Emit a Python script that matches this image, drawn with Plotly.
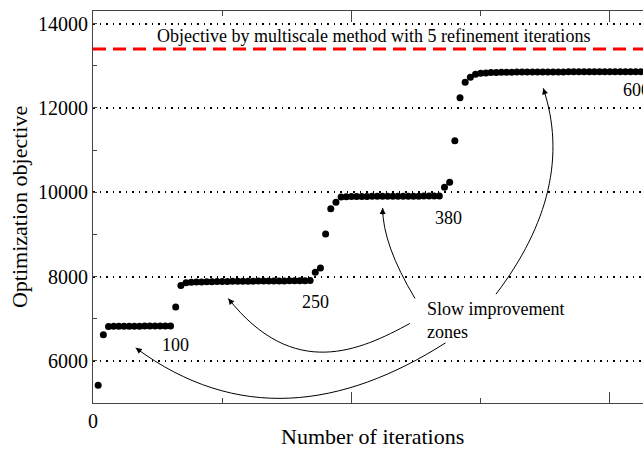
import plotly.graph_objects as go

# ---------------- data ----------------
iterations = list(range(10, 1070, 10))
objective = (
    [5420, 6620]
    + [6815, 6820, 6820, 6822, 6822, 6823, 6823, 6824, 6824, 6825, 6825, 6826, 6826]
    + [7280, 7790]
    + [7855, 7862, 7868, 7872, 7876, 7878, 7880, 7882, 7884, 7886, 7888, 7889,
       7890, 7891, 7892, 7893, 7894, 7895, 7896, 7897, 7898, 7899, 7900, 7902, 7905]
    + [8100, 8200, 9010, 9610, 9760]
    + [9890, 9895, 9898, 9900, 9901, 9902, 9903, 9904, 9905, 9905, 9906, 9906,
       9907, 9907, 9908, 9908, 9909, 9909, 9910, 9910]
    + [10120, 10240, 11220, 12240, 12610, 12730, 12800]
    + [12825, 12832, 12838, 12842, 12845, 12847, 12849, 12850, 12851, 12852,
       12853, 12853, 12854, 12854, 12855, 12855, 12855, 12856, 12856, 12856,
       12857, 12857, 12857, 12857, 12858, 12858, 12858, 12858, 12858, 12859,
       12859, 12859]
)
multiscale_objective = 13400
multiscale_label = "Objective by multiscale method with 5 refinement iterations"
x_range = [0, 1064]
y_range = [5000, 14300]
y_ticks = [6000, 8000, 10000, 12000, 14000]
x_ticks = [0, 500, 1000]
x_ticktext = ["0", "", ""]

# zone labels: (text, x, y)
zone_labels = [("100", 160, 6372), ("250", 430, 7399), ("380", 687, 9400)]

# curved arrows (cubic / quadratic Bezier control points in data units)
curves = [
    ("C", [(682, 6427), (482, 4864), (278, 4532), (82.6, 6308)], (6.4, 4.8)),
    ("C", [(613, 6887), (517, 6247), (388, 5516), (261.7, 7480)], (5, 6.3)),
    ("Q", [(623, 7480), (560.3, 8755), (560.3, 9628)], (0, 8)),
    ("C", [(779.5, 7581), (882, 9232), (914.5, 10880), (871, 12466)], (2.5, 7.6)),
]

FONT = "Liberation Serif"

fig = go.Figure()

fig.add_trace(go.Scatter(
    x=x_range, y=[multiscale_objective, multiscale_objective],
    mode="lines", line=dict(color="#ff0000", width=3, dash="13px,7px"),
    hoverinfo="skip", showlegend=False,
))

fig.add_trace(go.Scatter(
    x=iterations, y=objective, mode="markers",
    marker=dict(color="black", size=7),
    showlegend=False, cliponaxis=False,
))

shapes = []
annotations = []
for kind, pts, (ax, ay) in curves:
    path = "M %g,%g " % pts[0] + kind + " " + " ".join("%g,%g" % p for p in pts[1:])
    shapes.append(dict(type="path", path=path, xref="x", yref="y",
                       line=dict(color="black", width=1)))
    tip = pts[-1]
    annotations.append(dict(x=tip[0], y=tip[1], xref="x", yref="y", text="",
                            showarrow=True, arrowhead=2, arrowsize=1.2,
                            arrowwidth=1, arrowcolor="black",
                            ax=ax, ay=ay, standoff=0))

for txt, xx, yy in zone_labels:
    annotations.append(dict(x=xx, y=yy, xref="x", yref="y", text=txt,
                            showarrow=False, font=dict(family=FONT, size=18, color="black")))

annotations.append(dict(x=1021, y=12418, xref="x", yref="y", text="600",
                        xanchor="left", showarrow=False,
                        font=dict(family=FONT, size=18, color="black")))

annotations.append(dict(x=643, y=6969, xref="x", yref="y",
                        text="Slow improvement<br>zones", align="left",
                        xanchor="left", showarrow=False,
                        font=dict(family=FONT, size=18, color="black")))

annotations.append(dict(x=543.5, y=13699, xref="x", yref="y",
                        text=multiscale_label, showarrow=False,
                        font=dict(family=FONT, size=18, color="black")))

# axis titles
annotations.append(dict(x=0.5082, y=-0.086, xref="paper", yref="paper",
                        text="Number of iterations", showarrow=False,
                        yanchor="middle",
                        font=dict(family=FONT, size=22, color="black")))
annotations.append(dict(x=-0.1345, y=0.5, xref="paper", yref="paper",
                        text="Optimization objective", showarrow=False,
                        textangle=-90, xanchor="center", yanchor="middle",
                        font=dict(family=FONT, size=22, color="black")))

fig.update_layout(
    width=643, height=450,
    margin=dict(l=93, r=0, t=11, b=47),
    paper_bgcolor="white", plot_bgcolor="white",
    shapes=shapes, annotations=annotations,
    font=dict(family=FONT, size=20, color="black"),
    xaxis=dict(
        range=x_range, tickvals=x_ticks, ticktext=x_ticktext,
        ticks="inside", ticklen=11, tickcolor="#444", tickwidth=1,
        showline=True, linecolor="#444", linewidth=1, mirror="ticks",
        showgrid=False, zeroline=False,
        minor=dict(dtick=250, tick0=0, ticks="inside", ticklen=5, tickcolor="#444"),
        tickfont=dict(family=FONT, size=20, color="black"),
    ),
    yaxis=dict(
        range=y_range, tickvals=y_ticks, tickformat="d",
        ticks="", showline=True, linecolor="#444", linewidth=1,
        showgrid=True, gridcolor="black", gridwidth=1.5, griddash="1.5px,5px",
        zeroline=False,
        minor=dict(dtick=1000, tick0=1000, ticks="inside", ticklen=4, tickcolor="#444"),
        tickfont=dict(family=FONT, size=20, color="black"),
    ),
)

fig.write_html("out.html", config={"displayModeBar": False},
               post_script="document.body.style.margin='0';")
